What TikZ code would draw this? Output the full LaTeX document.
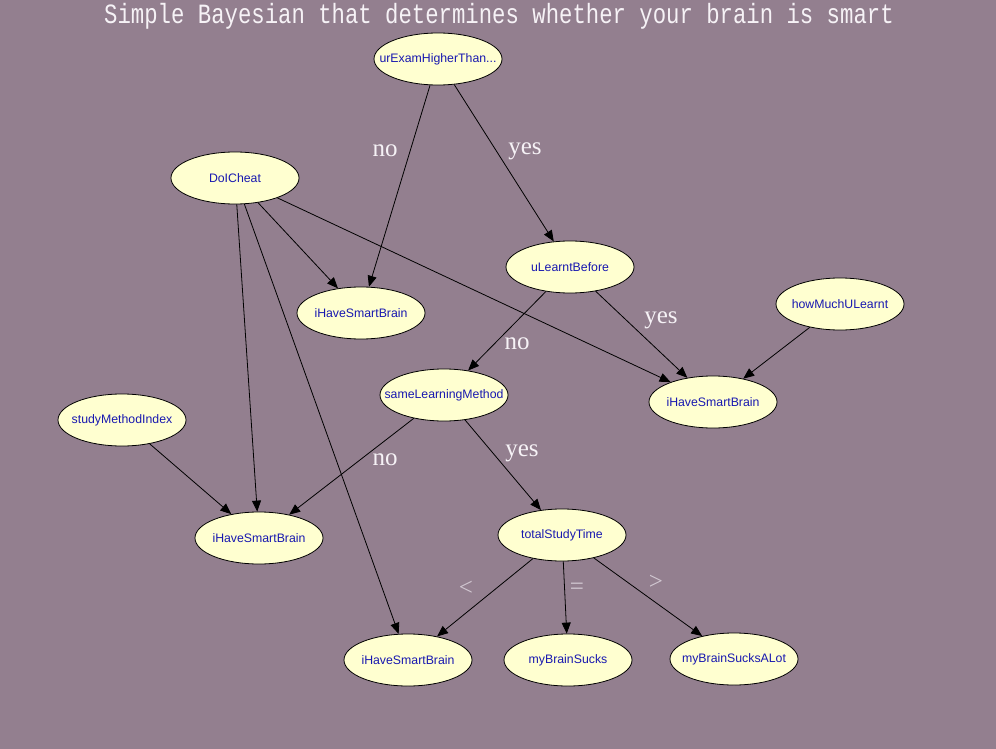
\documentclass[tikz,border=0pt]{standalone}
\usepackage{fontspec}
\setmainfont{Liberation Serif}
\newfontfamily\nodefont{Liberation Sans}
\newfontfamily\titlefont{Liberation Mono}
\usetikzlibrary{shapes.geometric,arrows.meta}
\definecolor{bgc}{RGB}{147,127,143}
\definecolor{nodefill}{RGB}{255,255,208}
\definecolor{nodetext}{RGB}{24,24,176}
\definecolor{labeltext}{RGB}{246,242,246}
\definecolor{cmptext}{RGB}{210,200,210}
\tikzset{
  bnode/.style={ellipse, draw=black, line width=0.8pt, fill=nodefill,
    minimum width=128pt, minimum height=52pt, inner sep=0pt,
    label={[text=nodetext, inner sep=0pt, font=\nodefont\fontsize{12.3}{14}\selectfont]center:#1}},
  edge/.style={draw=black, line width=0.8pt, -{Triangle[length=11pt,width=9pt]}},
  elabel/.style={text=labeltext, font=\fontsize{25}{28}\selectfont, inner sep=0pt, yshift=-3pt},
  clabel/.style={text=cmptext, font=\fontsize{25}{28}\selectfont, inner sep=0pt, yshift=-2pt}
}
\begin{document}
\begin{tikzpicture}[x=1pt,y=-1pt]
\fill[bgc] (0,0) rectangle (996,749);
\useasboundingbox (0,0) rectangle (996,749);

\node[text=labeltext, inner sep=0pt] (title) at (499,16)
  {\scalebox{1}[1.25]{\titlefont\fontsize{22.3}{24}\selectfont Simple Bayesian that determines whether your brain is smart}};

\node[bnode={urExamHigherThan...}] (exam) at (438,59) {};
\node[bnode={DoICheat}] (cheat) at (235,178) {};
\node[bnode={uLearntBefore}] (before) at (570,267) {};
\node[bnode={iHaveSmartBrain}] (smartA) at (361,313) {};
\node[bnode={howMuchULearnt}] (howmuch) at (840,304) {};
\node[bnode={iHaveSmartBrain}] (smartB) at (713,402) {};
\node[bnode={sameLearningMethod}] (same) at (444,395) {};
\node[bnode={studyMethodIndex}] (index) at (122,420) {};
\node[bnode={iHaveSmartBrain}] (smartC) at (259,538) {};
\node[bnode={totalStudyTime}] (total) at (562,535) {};
\node[bnode={iHaveSmartBrain}] (smartD) at (408,660) {};
\node[bnode={myBrainSucks}] (sucks) at (568,660) {};
\node[bnode={myBrainSucksALot}] (sucksalot) at (734,659) {};

\draw[edge] (exam) -- (smartA);
\draw[edge] (exam) -- (before);
\draw[edge] (cheat) -- (smartA);
\draw[edge] (cheat) -- (smartB);
\draw[edge] (cheat) -- (smartC);
\draw[edge] (cheat) -- (smartD);
\draw[edge] (before) -- (same);
\draw[edge] (before) -- (smartB);
\draw[edge] (howmuch) -- (smartB);
\draw[edge] (index) -- (smartC);
\draw[edge] (same) -- (smartC);
\draw[edge] (same) -- (total);
\draw[edge] (total) -- (smartD);
\draw[edge] (total) -- (sucks);
\draw[edge] (total) -- (sucksalot);

\node[elabel] (l1) at (385,148) {no};
\node[elabel] (l2) at (525,148) {yes};
\node[elabel] (l3) at (517,341) {no};
\node[elabel] (l4) at (661,317) {yes};
\node[elabel] (l5) at (385,457) {no};
\node[elabel] (l6) at (522,450) {yes};
\node[clabel] (l7) at (466,586) {<};
\node[clabel] (l8) at (577,587) {=};
\node[clabel] (l9) at (656,580) {>};
\end{tikzpicture}
\end{document}
